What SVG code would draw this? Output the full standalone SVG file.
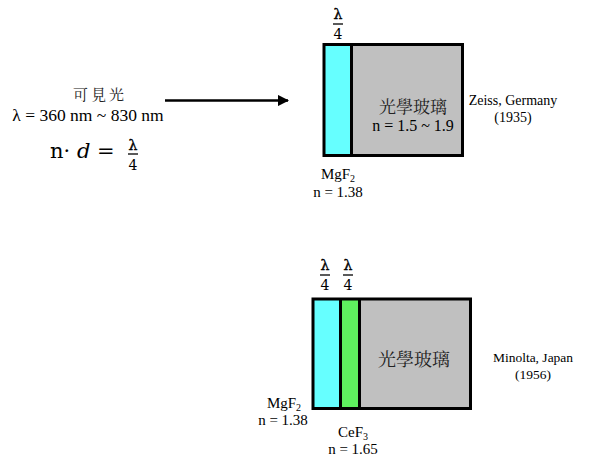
<svg xmlns="http://www.w3.org/2000/svg" width="600" height="467" viewBox="0 0 600 467">
<defs>
<style>
.t{font-family:"Liberation Serif","Noto Sans CJK TC",serif;fill:#000}
.c{font-family:"Noto Serif CJK TC","Noto Sans CJK TC",serif;fill:#222}
.m{font-family:"DejaVu Serif","Liberation Serif",serif;fill:#000}
.l{font-family:"DejaVu Serif","Liberation Serif",serif;fill:#000;font-size:14px;text-anchor:middle;stroke:#000;stroke-width:0.4}
.box{stroke:#000;stroke-width:3}
.div{stroke:#000;stroke-width:3}
.frac{stroke:#000;stroke-width:1.3}
</style>
<marker id="ah" viewBox="0 0 10 10" refX="9" refY="5" markerWidth="4.5" markerHeight="4.5" orient="auto" markerUnits="strokeWidth">
<path d="M0,0 L10,5 L0,10 z" fill="#000"/>
</marker>
</defs>
<rect width="600" height="467" fill="#fff"/>

<g id="light-label">
<text class="c" x="100" y="100" font-size="15" text-anchor="middle" letter-spacing="3">可見光</text>
<text class="t" x="88" y="121" font-size="17.5" text-anchor="middle">λ = 360 nm ~ 830 nm</text>
<text class="m" x="50" y="158" font-size="21">n·<tspan font-style="italic"> d</tspan> =</text>
<text class="l" x="133" y="150">λ</text>
<line class="frac" x1="128" y1="154" x2="138" y2="154"/>
<text class="m" x="133" y="170" font-size="14" text-anchor="middle">4</text>
</g>

<g id="connectors">
<line x1="165" y1="100.5" x2="288" y2="100.5" stroke="#000" stroke-width="2.5" marker-end="url(#ah)"/>
</g>

<g id="zeiss-lens">
<rect x="324" y="44.5" width="27.5" height="111" fill="#66FFFF"/>
<rect x="351.5" y="44.5" width="111" height="111" fill="#C0C0C0"/>
<rect class="box" x="324" y="44.5" width="138.5" height="111" fill="none"/>
<line class="div" x1="351.5" y1="44.5" x2="351.5" y2="155.5"/>
<text class="l" x="338" y="19">λ</text>
<line class="frac" x1="333" y1="24" x2="343" y2="24"/>
<text class="m" x="338" y="39" font-size="14" text-anchor="middle">4</text>
<text class="c" x="413" y="113" font-size="17" text-anchor="middle">光學玻璃</text>
<text class="t" x="413" y="131" font-size="16" text-anchor="middle">n = 1.5 ~ 1.9</text>
<text class="t" x="338" y="179" font-size="15" text-anchor="middle">MgF<tspan font-size="10" dy="3">2</tspan></text>
<text class="t" x="338" y="197" font-size="15" text-anchor="middle">n = 1.38</text>
<text class="t" x="513" y="105" font-size="14" text-anchor="middle">Zeiss, Germany</text>
<text class="t" x="513" y="122" font-size="14" text-anchor="middle">(1935)</text>
</g>

<g id="minolta-lens">
<rect x="313" y="299" width="27.5" height="109.5" fill="#66FFFF"/>
<rect x="340.5" y="299" width="19" height="109.5" fill="#5EF05E"/>
<rect x="359.5" y="299" width="111" height="109.5" fill="#C0C0C0"/>
<rect class="box" x="313" y="299" width="157.5" height="109.5" fill="none"/>
<line class="div" x1="340.5" y1="299" x2="340.5" y2="408.5"/>
<line class="div" x1="359.5" y1="299" x2="359.5" y2="408.5"/>
<text class="l" x="325" y="270">λ</text>
<line class="frac" x1="320" y1="275" x2="330" y2="275"/>
<text class="m" x="325" y="290" font-size="14" text-anchor="middle">4</text>
<text class="l" x="348" y="270">λ</text>
<line class="frac" x1="343" y1="275" x2="353" y2="275"/>
<text class="m" x="348" y="290" font-size="14" text-anchor="middle">4</text>
<text class="c" x="414" y="366" font-size="18" text-anchor="middle">光學玻璃</text>
<text class="t" x="284" y="408" font-size="15" text-anchor="middle">MgF<tspan font-size="10" dy="3">2</tspan></text>
<text class="t" x="283" y="425" font-size="15" text-anchor="middle">n = 1.38</text>
<text class="t" x="353" y="437" font-size="15" text-anchor="middle">CeF<tspan font-size="10" dy="3">3</tspan></text>
<text class="t" x="353" y="454" font-size="15" text-anchor="middle">n = 1.65</text>
<text class="t" x="533" y="362" font-size="13.5" text-anchor="middle">Minolta, Japan</text>
<text class="t" x="533" y="379" font-size="13.5" text-anchor="middle">(1956)</text>
</g>
</svg>
